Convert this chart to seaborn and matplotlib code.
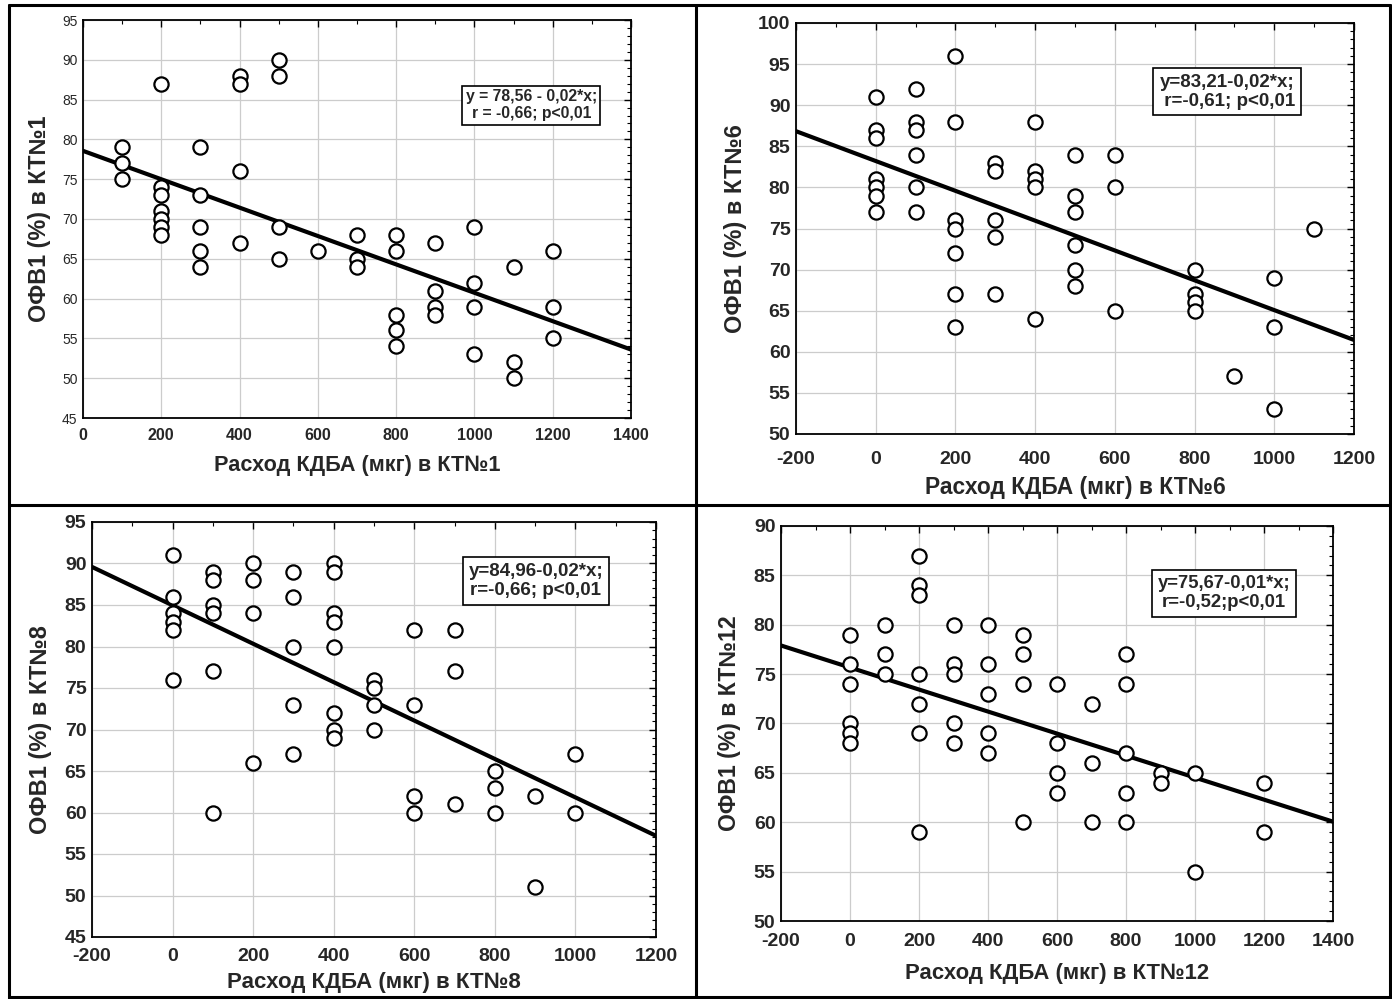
import matplotlib
matplotlib.use("Agg")
import matplotlib.pyplot as plt
import seaborn as sns
import pandas as pd
from matplotlib.lines import Line2D
from matplotlib.ticker import MultipleLocator

# ---------------- data ----------------
# Panel 1: КТ№1
p1_x = [100, 100, 100,
        200, 200, 200, 200, 200, 200, 200,
        300, 300, 300, 300, 300,
        400, 400, 400, 400,
        500, 500, 500, 500,
        600,
        700, 700, 700,
        800, 800, 800, 800, 800,
        900, 900, 900, 900,
        1000, 1000, 1000, 1000,
        1100, 1100, 1100,
        1200, 1200, 1200]
p1_y = [79, 77, 75,
        87, 74, 73, 71, 70, 69, 68,
        79, 73, 69, 66, 64,
        88, 87, 76, 67,
        90, 88, 69, 65,
        66,
        68, 65, 64,
        68, 66, 58, 56, 54,
        67, 61, 59, 58,
        69, 62, 59, 53,
        64, 52, 50,
        66, 59, 55]

# Panel 2: КТ№6
p2_x = [0, 0, 0, 0, 0, 0, 0,
        100, 100, 100, 100, 100, 100,
        200, 200, 200, 200, 200, 200, 200,
        300, 300, 300, 300, 300,
        400, 400, 400, 400, 400,
        500, 500, 500, 500, 500, 500,
        600, 600, 600,
        800, 800, 800, 800,
        900,
        1000, 1000, 1000,
        1100]
p2_y = [91, 87, 86, 81, 80, 79, 77,
        92, 88, 87, 84, 80, 77,
        96, 88, 76, 75, 72, 67, 63,
        83, 82, 76, 74, 67,
        88, 82, 81, 80, 64,
        84, 79, 77, 73, 70, 68,
        84, 80, 65,
        70, 67, 66, 65,
        57,
        69, 63, 53,
        75]

# Panel 3: КТ№8
p3_x = [0, 0, 0, 0, 0, 0,
        100, 100, 100, 100, 100, 100,
        200, 200, 200, 200,
        300, 300, 300, 300, 300,
        400, 400, 400, 400, 400, 400, 400, 400,
        500, 500, 500, 500,
        600, 600, 600, 600,
        700, 700, 700,
        800, 800, 800,
        900, 900,
        1000, 1000]
p3_y = [91, 86, 84, 83, 82, 76,
        89, 88, 85, 84, 77, 60,
        90, 88, 84, 66,
        89, 86, 80, 73, 67,
        90, 89, 84, 83, 80, 72, 70, 69,
        76, 75, 73, 70,
        82, 73, 62, 60,
        82, 77, 61,
        65, 63, 60,
        62, 51,
        67, 60]

# Panel 4: КТ№12
p4_x = [0, 0, 0, 0, 0, 0,
        100, 100, 100,
        200, 200, 200, 200, 200, 200, 200,
        300, 300, 300, 300, 300,
        400, 400, 400, 400, 400,
        500, 500, 500, 500,
        600, 600, 600, 600,
        700, 700, 700,
        800, 800, 800, 800, 800,
        900, 900,
        1000, 1000,
        1200, 1200]
p4_y = [79, 76, 74, 70, 69, 68,
        80, 77, 75,
        87, 84, 83, 75, 72, 69, 59,
        80, 76, 75, 70, 68,
        80, 76, 73, 69, 67,
        79, 77, 74, 60,
        74, 68, 65, 63,
        72, 66, 60,
        77, 74, 67, 63, 60,
        65, 64,
        65, 55,
        64, 59]

intercepts = [78.56, 83.21, 84.96, 75.67]
slopes = [-0.01783, -0.01814, -0.02314, -0.01115]
equations = ["y = 78,56 - 0,02*x;\nr = -0,66; p<0,01",
             "y=83,21-0,02*x;\n r=-0,61; p<0,01",
             "y=84,96-0,02*x;\nr=-0,66; p<0,01",
             "y=75,67-0,01*x;\nr=-0,52;p<0,01"]
xlabels = ["Расход КДБА (мкг) в КТ№1", "Расход КДБА (мкг) в КТ№6",
           "Расход КДБА (мкг) в КТ№8", "Расход КДБА (мкг) в КТ№12"]
ylabels = ["ОФВ1 (%) в КТ№1", "ОФВ1 (%) в КТ№6",
           "ОФВ1 (%) в КТ№8", "ОФВ1 (%) в КТ№12"]
xlims = [(0, 1400), (-200, 1200), (-200, 1200), (-200, 1400)]
ylims = [(45, 95), (50, 100), (45, 95), (50, 90)]

# ---------------- style ----------------
sns.set_style("white")
plt.rcParams['font.family'] = ['Liberation Sans', 'DejaVu Sans']
plt.rcParams['axes.unicode_minus'] = False

W, H = 1392, 999
fig = plt.figure(figsize=(W / 100, H / 100), dpi=100)

# pixel boxes (left, right, top, bottom)
boxes = [(83, 631, 20, 418), (796, 1354, 23, 434),
         (92, 656, 522, 937), (781, 1333, 526, 921)]
ann_pos = [(0.818, 0.786), (0.772, 0.833), (0.787, 0.858), (0.803, 0.830)]
ann_size = [11.3, 13.5, 13.5, 13.3]
ann_pad = [0.22, 0.3, 0.3, 0.3]
xt_pad = [7, 12, 8, 9]
xl_pad = [9, 6, 5, 9]
yl_pad = [8, 8, 9, 9]
xl_size = [15.6, 16.4, 16.0, 15.9]
yl_size = [16.8, 17.0, 17.0, 16.6]

datasets = [(p1_x, p1_y), (p2_x, p2_y), (p3_x, p3_y), (p4_x, p4_y)]

for i, ((l, r, t, b), (xs, ys)) in enumerate(zip(boxes, datasets)):
    ax = fig.add_axes([l / W, 1 - b / H, (r - l) / W, (b - t) / H])
    df = pd.DataFrame({"x": xs, "y": ys})
    ax.grid(True, color="#cccccc", linewidth=0.9, zorder=0)
    ax.set_axisbelow(True)
    ax.axline((0, intercepts[i]), slope=slopes[i], color="black",
              linewidth=3.0, zorder=2)
    sns.scatterplot(data=df, x="x", y="y", ax=ax, marker="o", s=105,
                    facecolor="white", edgecolor="black", linewidth=1.6,
                    zorder=3, legend=False)
    ax.set_xlim(*xlims[i])
    ax.set_ylim(*ylims[i])
    ax.xaxis.set_major_locator(MultipleLocator(200))
    ax.xaxis.set_minor_locator(MultipleLocator(100))
    ax.yaxis.set_major_locator(MultipleLocator(5))
    ax.yaxis.set_minor_locator(MultipleLocator(1))
    for sp in ax.spines.values():
        sp.set_color("black")
        sp.set_linewidth(1.3)
    ax.tick_params(which="both", direction="in", top=True, right=True,
                   color="black")
    ax.tick_params(which="major", length=5, width=1.0)
    ax.tick_params(which="minor", length=3, width=0.8)
    if i == 0:
        ax.tick_params(axis="y", labelsize=10, pad=4)
        ax.tick_params(axis="x", labelsize=11.5, pad=xt_pad[i])
        for lab in ax.get_xticklabels():
            lab.set_fontweight("bold")
    else:
        ax.tick_params(axis="both", labelsize=14)
        ax.tick_params(axis="x", pad=xt_pad[i])
        ax.tick_params(axis="y", pad=4)
        for lab in ax.get_xticklabels() + ax.get_yticklabels():
            lab.set_fontweight("bold")
    ax.set_xlabel(xlabels[i], fontsize=xl_size[i], fontweight="bold",
                  labelpad=xl_pad[i])
    ax.set_ylabel(ylabels[i], fontsize=yl_size[i], fontweight="bold",
                  labelpad=yl_pad[i])
    ax.text(ann_pos[i][0], ann_pos[i][1], equations[i], transform=ax.transAxes,
            ha="center", va="center", multialignment="center",
            fontsize=ann_size[i], fontweight="bold", zorder=5,
            linespacing=1.15,
            bbox=dict(boxstyle="square,pad=%s" % ann_pad[i], facecolor="white",
                      edgecolor="black", linewidth=1.2))

# table-like frame lines
def fline(x0, y0, x1, y1, lw=2.2):
    fig.add_artist(Line2D([x0 / W, x1 / W], [1 - y0 / H, 1 - y1 / H],
                          transform=fig.transFigure, color="black",
                          linewidth=lw))

fline(9, 5, 1390, 5)
fline(9, 5, 9, 999)
fline(1390, 5, 1390, 999)
fline(9, 505, 1390, 505)
fline(696, 5, 696, 999)
fline(9, 997, 1390, 997)

fig.savefig("out.png", dpi=100, facecolor="white")
